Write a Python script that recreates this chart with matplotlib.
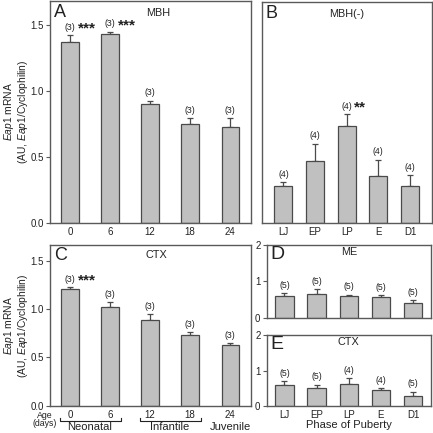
import matplotlib.pyplot as plt
import matplotlib.transforms as mtransforms
import numpy as np

# Configuration
OUTPUT_FILE = "out.png"
BAR_COLOR = "#c0c0c0"
EDGE_COLOR = "#4a4a4a"
FRAME_COLOR = "#5a5a5a"
TEXT_COLOR = "#222222"

# Age (days) data - panels A and C
AGE_LABELS = ["0", "6", "12", "18", "24"]
MBH_MEAN = [1.367, 1.427, 0.897, 0.746, 0.724]
MBH_SEM = [0.055, 0.018, 0.028, 0.048, 0.067]
MBH_N = ["(3)", "(3)", "(3)", "(3)", "(3)"]
MBH_STARS = ["***", "***", "", "", ""]

CTX_AGE_MEAN = [1.21, 1.02, 0.89, 0.73, 0.63]
CTX_AGE_SEM = [0.015, 0.05, 0.055, 0.03, 0.018]
CTX_AGE_N = ["(3)", "(3)", "(3)", "(3)", "(3)"]
CTX_AGE_STARS = ["***", "", "", "", ""]

AGE_GROUPS = ["Neonatal", "Infantile", "Juvenile"]

# Puberty phase data - panels B, D and E
PHASE_LABELS = ["LJ", "EP", "LP", "E", "D1"]
MBHM_MEAN = [0.284, 0.472, 0.739, 0.359, 0.284]
MBHM_SEM = [0.025, 0.131, 0.09, 0.123, 0.08]
MBHM_N = ["(4)", "(4)", "(4)", "(4)", "(4)"]
MBHM_STARS = ["", "", "**", "", ""]

ME_MEAN = [0.59, 0.65, 0.59, 0.57, 0.40]
ME_SEM = [0.09, 0.14, 0.05, 0.05, 0.08]
ME_N = ["(5)", "(5)", "(5)", "(5)", "(5)"]

CTX_PH_MEAN = [0.60, 0.50, 0.62, 0.46, 0.30]
CTX_PH_SEM = [0.10, 0.10, 0.17, 0.04, 0.11]
CTX_PH_N = ["(5)", "(5)", "(4)", "(4)", "(5)"]

YLABEL = "$\\it{Eap1}$ mRNA\n(AU, $\\it{Eap1}$/Cyclophilin)"

plt.rcParams['font.family'] = ['Liberation Sans', 'DejaVu Sans']
plt.rcParams['mathtext.fontset'] = 'custom'
plt.rcParams['mathtext.it'] = 'Liberation Sans:italic'
plt.rcParams['mathtext.rm'] = 'Liberation Sans'


def style_axes(ax):
  """Grey frame, outward y ticks, no x tick marks"""
  for s in ax.spines.values():
    s.set_color(FRAME_COLOR)
    s.set_linewidth(1.0)
  ax.tick_params(axis='y', direction='out', length=3, width=0.8,
                 color=FRAME_COLOR, labelsize=7, labelcolor=TEXT_COLOR, pad=1.5)
  ax.tick_params(axis='x', length=0, labelsize=7, labelcolor=TEXT_COLOR, pad=3)


def draw_bars(ax, means, sems, n_labels, stars=None, width=0.43, n_size=6.3):
  """Bars with upper error whiskers and n / significance labels"""
  x = np.arange(len(means))
  ax.bar(x, means, width=width, color=BAR_COLOR, edgecolor=EDGE_COLOR,
         linewidth=0.9, zorder=2)
  ax.errorbar(x, means, yerr=[np.zeros(len(means)), sems], fmt='none',
              ecolor=EDGE_COLOR, elinewidth=0.9, capsize=2.5, capthick=0.9, zorder=1)
  for i, (m, s) in enumerate(zip(means, sems)):
    ax.annotate(n_labels[i], (x[i], m + s), xytext=(0, 2.5),
                textcoords='offset points', ha='center', va='bottom',
                fontsize=n_size, color=TEXT_COLOR)
    if stars and stars[i]:
      ax.annotate(stars[i], (x[i], m + s), xytext=(5.5, -0.5),
                  textcoords='offset points', ha='left', va='bottom',
                  fontsize=11, fontweight='bold', color=TEXT_COLOR)
  return x


def panel_text(ax, letter, title, title_x=0.5, letter_size=13):
  ax.text(0.02, 0.985, letter, transform=ax.transAxes, ha='left', va='top',
          fontsize=letter_size, color=TEXT_COLOR)
  ax.text(title_x, 0.97, title, transform=ax.transAxes, ha='center', va='top',
          fontsize=7.8, color=TEXT_COLOR)


def set_ylabel(ax):
  ax.set_ylabel(YLABEL, fontsize=7.4, color=TEXT_COLOR, linespacing=1.0,
                va='center')
  ax.yaxis.set_label_coords(-0.168, 0.5)


def main():
  fig = plt.figure(figsize=(4.33, 4.33), dpi=100)

  # Panel positions in figure fractions
  ax_a = fig.add_axes([0.1155, 0.485, 0.464, 0.513])
  ax_b = fig.add_axes([0.605, 0.485, 0.393, 0.510])
  ax_c = fig.add_axes([0.1155, 0.063, 0.464, 0.371])
  ax_d = fig.add_axes([0.616, 0.266, 0.379, 0.168])
  ax_e = fig.add_axes([0.616, 0.062, 0.379, 0.164])

  # A - MBH by age
  x = draw_bars(ax_a, MBH_MEAN, MBH_SEM, MBH_N, MBH_STARS)
  ax_a.set_xlim(-0.5, 4.52)
  ax_a.set_ylim(0, 1.68)
  ax_a.set_yticks([0, 0.5, 1.0, 1.5])
  ax_a.set_yticklabels(["0.0", "0.5", "1.0", "1.5"])
  ax_a.set_xticks(x)
  ax_a.set_xticklabels(AGE_LABELS)
  set_ylabel(ax_a)
  style_axes(ax_a)
  panel_text(ax_a, "A", "MBH", title_x=0.54)

  # B - MBH(-) by phase
  x = draw_bars(ax_b, MBHM_MEAN, MBHM_SEM, MBHM_N, MBHM_STARS, width=0.57)
  ax_b.set_xlim(-0.68, 4.7)
  ax_b.set_ylim(0, 1.68)
  ax_b.set_yticks([])
  ax_b.set_xticks(x)
  ax_b.set_xticklabels(PHASE_LABELS)
  style_axes(ax_b)
  panel_text(ax_b, "B", "MBH(-)")

  # C - CTX by age
  x = draw_bars(ax_c, CTX_AGE_MEAN, CTX_AGE_SEM, CTX_AGE_N, CTX_AGE_STARS)
  ax_c.set_xlim(-0.5, 4.52)
  ax_c.set_ylim(0, 1.66)
  ax_c.set_yticks([0, 0.5, 1.0, 1.5])
  ax_c.set_yticklabels(["0.0", "0.5", "1.0", "1.5"])
  ax_c.set_xticks(x)
  ax_c.set_xticklabels(AGE_LABELS)
  set_ylabel(ax_c)
  style_axes(ax_c)
  panel_text(ax_c, "C", "CTX", title_x=0.53)

  # Age group brackets under panel C
  trans = mtransforms.blended_transform_factory(ax_c.transData, ax_c.transAxes)
  groups = [(0, 1), (2, 3)]
  for (g0, g1) in groups:
    ax_c.plot([g0 - 0.25, g0 - 0.25, g1 + 0.27, g1 + 0.27],
              [-0.078, -0.095, -0.095, -0.078], transform=trans,
              color=TEXT_COLOR, lw=0.8, clip_on=False)
  centers = [0.5, 2.5, 4.0]
  for c, name in zip(centers, AGE_GROUPS):
    ax_c.text(c, -0.135, name, transform=trans, ha='center', va='center',
              fontsize=8, color=TEXT_COLOR)
  ax_c.text(-0.63, -0.085, "Age\n(days)", transform=trans, ha='center',
            va='center', fontsize=6.3, color=TEXT_COLOR, linespacing=0.95)

  # D - ME by phase
  x = draw_bars(ax_d, ME_MEAN, ME_SEM, ME_N, width=0.57)
  ax_d.set_xlim(-0.55, 4.55)
  ax_d.set_ylim(0, 2)
  ax_d.set_yticks([0, 1, 2])
  ax_d.set_xticks([])
  style_axes(ax_d)
  panel_text(ax_d, "D", "ME", letter_size=14)

  # E - CTX by phase
  x = draw_bars(ax_e, CTX_PH_MEAN, CTX_PH_SEM, CTX_PH_N, width=0.57)
  ax_e.set_xlim(-0.55, 4.55)
  ax_e.set_ylim(0, 2)
  ax_e.set_yticks([0, 1, 2])
  ax_e.set_xticks(x)
  ax_e.set_xticklabels(PHASE_LABELS)
  ax_e.set_xlabel("Phase of Puberty", fontsize=8, color=TEXT_COLOR, labelpad=0)
  style_axes(ax_e)
  panel_text(ax_e, "E", "CTX", letter_size=14)

  fig.savefig(OUTPUT_FILE, dpi=100)
  plt.close(fig)


if __name__ == "__main__":
  main()
